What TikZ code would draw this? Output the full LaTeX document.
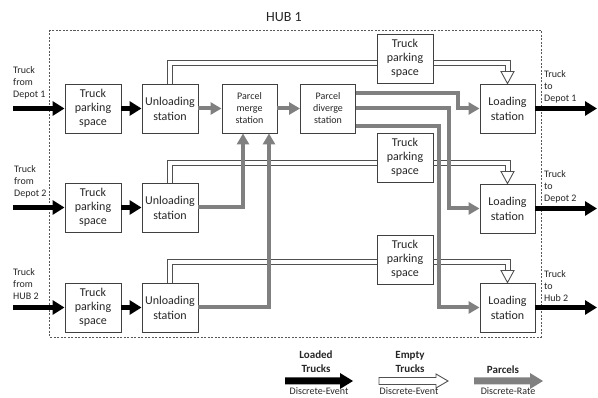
\documentclass[tikz,border=0pt]{standalone}
\usepackage{fontspec}
\setmainfont{Carlito}
\usetikzlibrary{arrows.meta,calc}
\definecolor{parcelgray}{RGB}{128,128,128}
\definecolor{boxline}{RGB}{64,64,64}
\definecolor{txt}{RGB}{38,38,38}
\definecolor{emptyline}{RGB}{80,80,80}
\begin{document}
\begin{tikzpicture}[x=1pt,y=-1pt,
  box/.style={draw=boxline, line width=0.9pt, minimum width=56pt, minimum height=49pt,
    inner sep=0pt, align=center, text=txt, font=\fontsize{12}{14}\selectfont},
  stationbox/.style={box, font=\fontsize{12}{15}\selectfont},
  smallbox/.style={box, minimum width=55pt, font=\fontsize{10}{12}\selectfont},
  sidelabel/.style={align=left, anchor=west, inner sep=0pt, text=txt, font=\fontsize{10}{12}\selectfont},
  loaded/.style={draw=black, line width=4.5pt, -{Triangle[length=12pt,width=14pt]}},
  parcel/.style={draw=parcelgray, line width=4pt, -{Triangle[length=11pt,width=12pt]}},
  emptytruck/.style={draw=emptyline, line width=0.9pt},
  hollowtip/.style={draw=emptyline, line width=0.9pt, fill=white, line join=miter},
  legendtext/.style={align=center, inner sep=0pt, text=txt, font=\fontsize{10}{14}\selectfont},
  legendhead/.style={align=center, inner sep=0pt, text=txt, font=\fontsize{11}{14}\selectfont\bfseries},
]
\useasboundingbox (0,0) rectangle (598,398);

% hub frame
\draw[draw=black!65, line width=0.8pt, dash pattern=on 2pt off 1.5pt] (49,30) rectangle (541,337);
\node[inner sep=0pt, text=txt, font=\fontsize{14}{16}\selectfont] (hub) at (284,17) {HUB 1};

% row 1
\node[box] (P1) at (93,108.5) {Truck\\parking\\space};
\node[stationbox] (U1) at (170,108.5) {Unloading\\station};
\node[smallbox] (M) at (249.5,108.5) {Parcel\\merge\\station};
\node[smallbox] (D) at (328,108.5) {Parcel\\diverge\\station};
\node[box] (T1) at (405,58.5) {Truck\\parking\\space};
\node[stationbox, minimum width=55pt] (L1) at (507.5,108.5) {Loading\\station};

% row 2
\node[box] (P2) at (93,207.5) {Truck\\parking\\space};
\node[stationbox] (U2) at (170,207.5) {Unloading\\station};
\node[box] (T2) at (405,157.5) {Truck\\parking\\space};
\node[stationbox, minimum width=55pt] (L2) at (507.5,208.5) {Loading\\station};

% row 3
\node[box] (P3) at (93,307.5) {Truck\\parking\\space};
\node[stationbox] (U3) at (170,307.5) {Unloading\\station};
\node[box] (T3) at (405,259.5) {Truck\\parking\\space};
\node[stationbox, minimum width=55pt] (L3) at (507.5,307.5) {Loading\\station};

% side labels
\node[sidelabel] (in1) at (13,83) {Truck\\from\\Depot 1};
\node[sidelabel] (in2) at (14,181.5) {Truck\\from\\Depot 2};
\node[sidelabel] (in3) at (13,284) {Truck\\from\\HUB 2};
\node[sidelabel] (out1) at (544,87) {Truck\\to\\Depot 1};
\node[sidelabel] (out2) at (544,187) {Truck\\to\\Depot 2};
\node[sidelabel] (out3) at (544,286) {Truck\\to\\Hub 2};

\coordinate (s1) at (13,108.5);
\coordinate (s2) at (13,207.5);
\coordinate (s3) at (13,307.5);
\coordinate (e1) at (597,108.5);
\coordinate (e2) at (597,208.5);
\coordinate (e3) at (597,307.5);

% loaded trucks
\draw[loaded] (s1) -- (P1.west);
\draw[loaded] (s2) -- (P2.west);
\draw[loaded] (s3) -- (P3.west);
\draw[loaded] (P1.east) -- (U1.west);
\draw[loaded] (P2.east) -- (U2.west);
\draw[loaded] (P3.east) -- (U3.west);
\draw[loaded] (L1.east) -- (e1);
\draw[loaded] (L2.east) -- (e2);
\draw[loaded] (L3.east) -- (e3);

% empty trucks (double lines drawn as two rails)
\draw[emptytruck] ([xshift=-2.5pt]U1.north) |- ([yshift=-1.5pt]T1.west);
\draw[emptytruck] ([xshift=2.5pt]U1.north) |- ([yshift=-6.5pt]T1.west);
\draw[emptytruck] ([yshift=-1.5pt]T1.east) -| ([xshift=2.5pt,yshift=11pt]L1.north);
\draw[emptytruck] ([yshift=-6.5pt]T1.east) -| ([xshift=-2.5pt,yshift=11pt]L1.north);
\draw[hollowtip] (L1.north) -- ++(-6.5,-12) -- ++(13,0) -- cycle;

\draw[emptytruck] ([xshift=-2.5pt]U2.north) |- ([yshift=-2.5pt]T2.west);
\draw[emptytruck] ([xshift=2.5pt]U2.north) |- ([yshift=-7.5pt]T2.west);
\draw[emptytruck] ([yshift=-2.5pt]T2.east) -| ([xshift=2.5pt,yshift=11pt]L2.north);
\draw[emptytruck] ([yshift=-7.5pt]T2.east) -| ([xshift=-2.5pt,yshift=11pt]L2.north);
\draw[hollowtip] (L2.north) -- ++(-6.5,-12) -- ++(13,0) -- cycle;

\draw[emptytruck] ([xshift=-2.5pt]U3.north) |- ([yshift=0.5pt]T3.west);
\draw[emptytruck] ([xshift=2.5pt]U3.north) |- ([yshift=-4.5pt]T3.west);
\draw[emptytruck] ([yshift=0.5pt]T3.east) -| ([xshift=2.5pt,yshift=11pt]L3.north);
\draw[emptytruck] ([yshift=-4.5pt]T3.east) -| ([xshift=-2.5pt,yshift=11pt]L3.north);
\draw[hollowtip] (L3.north) -- ++(-6.5,-12) -- ++(13,0) -- cycle;

% parcels
\draw[parcel] (U1.east) -- (M.west);
\draw[parcel] (M.east) -- (D.west);
\draw[parcel] (U2.east) -| ([xshift=-6.5pt]M.south);
\draw[parcel] (U3.east) -| ([xshift=19.5pt]M.south);
\draw[parcel] ([yshift=15.5pt]D.east) -| ([xshift=-22pt]L1.west) -- (L1.west);
\draw[parcel] (D.east) -| ([xshift=-31pt]L2.west) -- (L2.west);
\draw[parcel] ([yshift=-17.5pt]D.east) -| ([xshift=-41pt]L3.west) -- (L3.west);

% legend
\node[legendhead] (lg1) at (316,362) {Loaded\\Trucks};
\node[legendhead] (lg2) at (410,362) {Empty\\Trucks};
\node[legendhead] (lg3) at (503,369.5) {Parcels};
\node[legendtext] (ld1) at (319,391.5) {Discrete-Event};
\node[legendtext] (ld2) at (409,391.5) {Discrete-Event};
\node[legendtext] (ld3) at (508,391.5) {Discrete-Rate};
\fill[black] (285,377.5) -- (340,377.5) -- (340,373) -- (353,381) -- (340,389) -- (340,384.5) -- (285,384.5) -- cycle;
\draw[hollowtip] (379,377.5) -- (436,377.5) -- (436,374) -- (448,381) -- (436,388) -- (436,384.5) -- (379,384.5) -- cycle;
\fill[parcelgray] (474,377.5) -- (530,377.5) -- (530,373) -- (543,381) -- (530,389) -- (530,384.5) -- (474,384.5) -- cycle;
\end{tikzpicture}
\end{document}
